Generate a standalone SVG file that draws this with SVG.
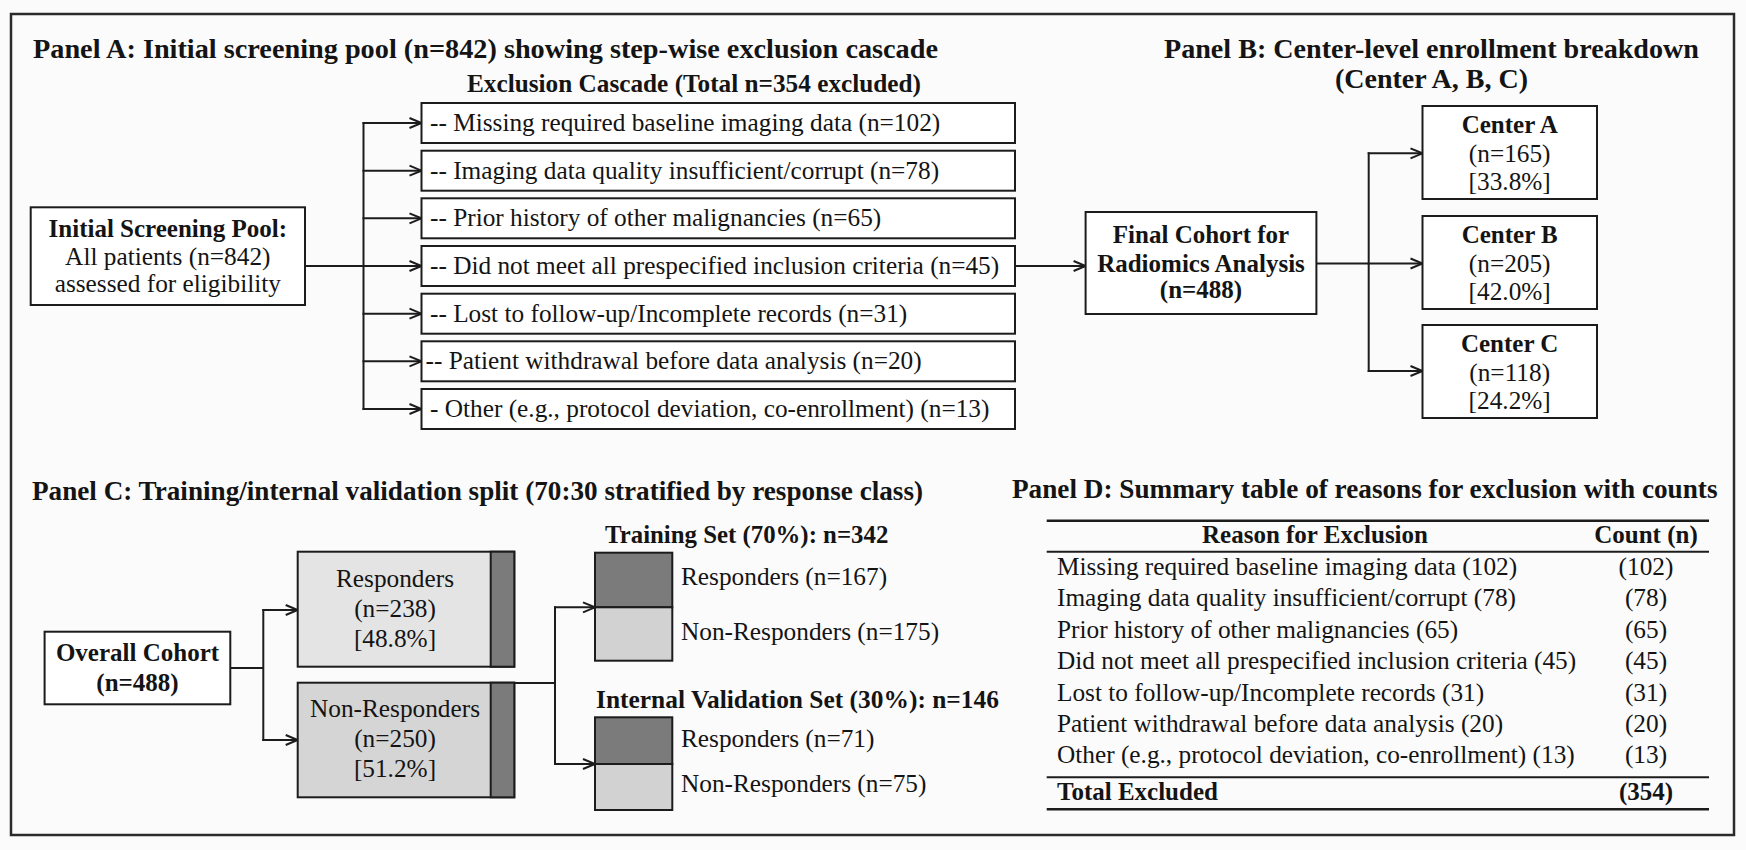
<svg xmlns="http://www.w3.org/2000/svg" width="1746" height="850" viewBox="0 0 1746 850">
<defs>
<style>
.t{font-family:"Liberation Serif","Times New Roman",serif;fill:#141414}
.b{font-weight:bold}
.r{font-size:25.3px}
.m{text-anchor:middle}
.box{fill:#ffffff;stroke:#1c1c1c;stroke-width:2}
.ln{fill:none;stroke:#1c1c1c;stroke-width:2}
.arr{fill:none;stroke:#1c1c1c;stroke-width:2;marker-end:url(#ah)}
.dark{fill:#7b7b7b;stroke:#1c1c1c;stroke-width:2}
.tl{stroke:#1c1c1c}
</style>
<marker id="ah" markerUnits="userSpaceOnUse" markerWidth="16" markerHeight="14" refX="13" refY="7" orient="auto">
<path d="M1,2 L13,7 L1,12" fill="none" stroke="#1c1c1c" stroke-width="2"/>
</marker>
</defs>
<rect x="0" y="0" width="1746" height="850" fill="#fbfbfb"/>
<rect x="11" y="14" width="1723" height="821" fill="none" stroke="#2a2a2a" stroke-width="2.5"/>

<g id="titles">
<text class="t b" x="33" y="57.5" font-size="28.2" textLength="905" lengthAdjust="spacingAndGlyphs">Panel A: Initial screening pool (n=842) showing step-wise exclusion cascade</text>
<text class="t b" x="467" y="92" font-size="25" textLength="454" lengthAdjust="spacingAndGlyphs">Exclusion Cascade (Total n=354 excluded)</text>
<text class="t b m" x="1431.5" y="57.5" font-size="28" textLength="535" lengthAdjust="spacingAndGlyphs">Panel B: Center-level enrollment breakdown</text>
<text class="t b m" x="1431.5" y="88" font-size="28">(Center A, B, C)</text>
<text class="t b" x="32" y="500" font-size="27.1" textLength="891" lengthAdjust="spacingAndGlyphs">Panel C: Training/internal validation split (70:30 stratified by response class)</text>
<text class="t b" x="1012" y="498.3" font-size="27.2" textLength="705.5" lengthAdjust="spacingAndGlyphs">Panel D: Summary table of reasons for exclusion with counts</text>
</g>

<g id="connectors">
<!-- Panel A -->
<line class="ln" x1="305" y1="266" x2="363.5" y2="266"/>
<line class="ln" x1="363.5" y1="122" x2="363.5" y2="410"/>
<line class="arr" x1="362.5" y1="123" x2="421.5" y2="123"/>
<line class="arr" x1="362.5" y1="170.7" x2="421.5" y2="170.7"/>
<line class="arr" x1="362.5" y1="218.3" x2="421.5" y2="218.3"/>
<line class="arr" x1="362.5" y1="266" x2="421.5" y2="266"/>
<line class="arr" x1="362.5" y1="313.7" x2="421.5" y2="313.7"/>
<line class="arr" x1="362.5" y1="361.3" x2="421.5" y2="361.3"/>
<line class="arr" x1="362.5" y1="409" x2="421.5" y2="409"/>
<line class="arr" x1="1015" y1="266" x2="1085.6" y2="266"/>
<!-- Panel B -->
<line class="ln" x1="1316.4" y1="263.5" x2="1368.7" y2="263.5"/>
<line class="ln" x1="1368.7" y1="152.3" x2="1368.7" y2="372"/>
<line class="arr" x1="1367.7" y1="153.3" x2="1422.5" y2="153.3"/>
<line class="arr" x1="1367.7" y1="263.5" x2="1422.5" y2="263.5"/>
<line class="arr" x1="1367.7" y1="371" x2="1422.5" y2="371"/>
<!-- Panel C -->
<line class="ln" x1="230.3" y1="668" x2="263.3" y2="668"/>
<line class="ln" x1="263.3" y1="609" x2="263.3" y2="741"/>
<line class="arr" x1="262.3" y1="610" x2="297.7" y2="610"/>
<line class="arr" x1="262.3" y1="740" x2="297.7" y2="740"/>
<line class="ln" x1="514.3" y1="683" x2="555" y2="683"/>
<line class="ln" x1="555" y1="606.3" x2="555" y2="765"/>
<line class="arr" x1="554" y1="607.3" x2="595" y2="607.3"/>
<line class="arr" x1="554" y1="764" x2="595" y2="764"/>
</g>

<g id="initial-pool">
<rect class="box" x="30.7" y="207.3" width="274.3" height="97.7"/>
<text class="t b m" x="167.8" y="236.7" font-size="25">Initial Screening Pool:</text>
<text class="t r m" x="167.8" y="265">All patients (n=842)</text>
<text class="t r m" x="167.8" y="291.7">assessed for eligibility</text>
</g>

<g id="excl-1">
<rect class="box" x="421.5" y="103" width="593.5" height="40"/>
<text class="t r" x="430" y="131">-- Missing required baseline imaging data (n=102)</text>
</g>
<g id="excl-2">
<rect class="box" x="421.5" y="150.7" width="593.5" height="40"/>
<text class="t r" x="430" y="178.7">-- Imaging data quality insufficient/corrupt (n=78)</text>
</g>
<g id="excl-3">
<rect class="box" x="421.5" y="198.3" width="593.5" height="40"/>
<text class="t r" x="430" y="226.3">-- Prior history of other malignancies (n=65)</text>
</g>
<g id="excl-4">
<rect class="box" x="421.5" y="246" width="593.5" height="40"/>
<text class="t r" x="430" y="274">-- Did not meet all prespecified inclusion criteria (n=45)</text>
</g>
<g id="excl-5">
<rect class="box" x="421.5" y="293.7" width="593.5" height="40"/>
<text class="t r" x="430" y="321.7">-- Lost to follow-up/Incomplete records (n=31)</text>
</g>
<g id="excl-6">
<rect class="box" x="421.5" y="341.3" width="593.5" height="40"/>
<text class="t r" x="425.5" y="369.3">-- Patient withdrawal before data analysis (n=20)</text>
</g>
<g id="excl-7">
<rect class="box" x="421.5" y="389" width="593.5" height="40"/>
<text class="t r" x="430" y="417">- Other (e.g., protocol deviation, co-enrollment) (n=13)</text>
</g>

<g id="final-cohort">
<rect class="box" x="1085.6" y="212" width="230.8" height="102"/>
<text class="t b m" x="1201" y="243.3" font-size="25">Final Cohort for</text>
<text class="t b m" x="1201" y="271.7" font-size="25">Radiomics Analysis</text>
<text class="t b m" x="1201" y="298.3" font-size="25">(n=488)</text>
</g>

<g id="center-a">
<rect class="box" x="1422.5" y="106" width="174.5" height="93"/>
<text class="t b m" x="1509.7" y="132.5" font-size="25">Center A</text>
<text class="t r m" x="1509.7" y="161.5">(n=165)</text>
<text class="t r m" x="1509.7" y="190">[33.8%]</text>
</g>
<g id="center-b">
<rect class="box" x="1422.5" y="216" width="174.5" height="93"/>
<text class="t b m" x="1509.7" y="242.5" font-size="25">Center B</text>
<text class="t r m" x="1509.7" y="271.5">(n=205)</text>
<text class="t r m" x="1509.7" y="300">[42.0%]</text>
</g>
<g id="center-c">
<rect class="box" x="1422.5" y="325" width="174.5" height="93"/>
<text class="t b m" x="1509.7" y="351.5" font-size="25">Center C</text>
<text class="t r m" x="1509.7" y="380.5">(n=118)</text>
<text class="t r m" x="1509.7" y="409">[24.2%]</text>
</g>

<g id="overall-cohort">
<rect class="box" x="44.6" y="631.7" width="185.7" height="72.6"/>
<text class="t b m" x="137.5" y="660.7" font-size="25">Overall Cohort</text>
<text class="t b m" x="137.5" y="690.7" font-size="25">(n=488)</text>
</g>

<g id="responders">
<rect x="297.7" y="551.7" width="216.6" height="115" fill="#e4e4e4" stroke="#1c1c1c" stroke-width="2"/>
<rect class="dark" x="490.7" y="551.7" width="23.6" height="115"/>
<text class="t r m" x="395" y="586.7">Responders</text>
<text class="t r m" x="395" y="617.3">(n=238)</text>
<text class="t r m" x="395" y="646.7">[48.8%]</text>
</g>
<g id="non-responders">
<rect x="297.7" y="682.7" width="216.6" height="114.6" fill="#d5d5d5" stroke="#1c1c1c" stroke-width="2"/>
<rect class="dark" x="490.7" y="682.7" width="23.6" height="114.6"/>
<text class="t r m" x="395" y="717.3">Non-Responders</text>
<text class="t r m" x="395" y="747.3">(n=250)</text>
<text class="t r m" x="395" y="777.3">[51.2%]</text>
</g>

<g id="training-set">
<text class="t b" x="605" y="542.7" font-size="25" textLength="283.3" lengthAdjust="spacingAndGlyphs">Training Set (70%): n=342</text>
<rect class="dark" x="595" y="552.7" width="77.3" height="54.6"/>
<rect x="595" y="607.3" width="77.3" height="53.4" fill="#d2d2d2" stroke="#1c1c1c" stroke-width="2"/>
<text class="t r" x="681" y="585">Responders (n=167)</text>
<text class="t r" x="681" y="640">Non-Responders (n=175)</text>
</g>

<g id="validation-set">
<text class="t b" x="596" y="708.3" font-size="25" textLength="403" lengthAdjust="spacingAndGlyphs">Internal Validation Set (30%): n=146</text>
<rect class="dark" x="595" y="717.3" width="77.3" height="46.7"/>
<rect x="595" y="764" width="77.3" height="46" fill="#d2d2d2" stroke="#1c1c1c" stroke-width="2"/>
<text class="t r" x="681" y="747.3">Responders (n=71)</text>
<text class="t r" x="681" y="791.7">Non-Responders (n=75)</text>
</g>

<g id="summary-table">
<line class="tl" x1="1046.7" y1="520.7" x2="1709" y2="520.7" stroke-width="2.5"/>
<line class="tl" x1="1046.7" y1="551.7" x2="1709" y2="551.7" stroke-width="2"/>
<line class="tl" x1="1046.7" y1="777.3" x2="1709" y2="777.3" stroke-width="2"/>
<line class="tl" x1="1046.7" y1="809.3" x2="1709" y2="809.3" stroke-width="2.5"/>
<text class="t b m" x="1315" y="543.3" font-size="25">Reason for Exclusion</text>
<text class="t b m" x="1646" y="543.3" font-size="25">Count (n)</text>
<text class="t r" x="1057" y="575">Missing required baseline imaging data (102)</text>
<text class="t r m" x="1646" y="575">(102)</text>
<text class="t r" x="1057" y="606.4">Imaging data quality insufficient/corrupt (78)</text>
<text class="t r m" x="1646" y="606.4">(78)</text>
<text class="t r" x="1057" y="637.8">Prior history of other malignancies (65)</text>
<text class="t r m" x="1646" y="637.8">(65)</text>
<text class="t r" x="1057" y="669.2">Did not meet all prespecified inclusion criteria (45)</text>
<text class="t r m" x="1646" y="669.2">(45)</text>
<text class="t r" x="1057" y="700.6">Lost to follow-up/Incomplete records (31)</text>
<text class="t r m" x="1646" y="700.6">(31)</text>
<text class="t r" x="1057" y="732">Patient withdrawal before data analysis (20)</text>
<text class="t r m" x="1646" y="732">(20)</text>
<text class="t r" x="1057" y="763.4">Other (e.g., protocol deviation, co-enrollment) (13)</text>
<text class="t r m" x="1646" y="763.4">(13)</text>
<text class="t b" x="1057" y="800" font-size="25">Total Excluded</text>
<text class="t b m" x="1646" y="800" font-size="25">(354)</text>
</g>
</svg>
